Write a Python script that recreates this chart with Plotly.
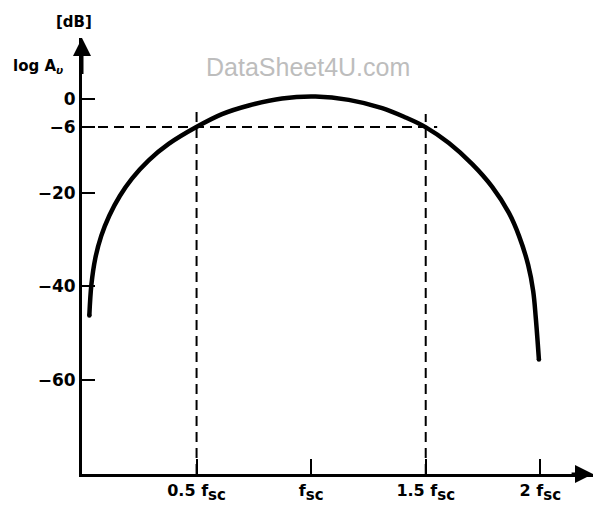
import plotly.graph_objects as go

# Frequency response of the filter: gain (dB) versus frequency (multiples of f_sc)
freq = [0.032, 0.041, 0.058, 0.084, 0.119, 0.165, 0.218, 0.291, 0.378, 0.499,
        0.611, 0.728, 0.873, 1.019, 1.164, 1.310, 1.412, 1.499, 1.601, 1.703,
        1.790, 1.863, 1.907, 1.947, 1.969, 1.980, 1.994]
gain_db = [-46.2, -39.6, -34.0, -29.2, -24.9, -20.7, -17.0, -13.1, -9.6, -6.0,
           -3.25, -1.4, 0.1, 0.5, -0.2, -1.95, -3.95, -6.0, -9.4, -13.9,
           -18.75, -24.3, -29.2, -35.4, -41.0, -46.5, -55.6]

# -6 dB reference points
ref_db = -6
ref_freqs = [0.5, 1.5]
ref_tops = [-2.7, -3.2]

y_tick_vals = [0, -6, -20, -40, -60]
y_tick_text = ["0", "\u22126", "\u221220", "\u221240", "\u221260"]
x_tick_vals = [0.5, 1.0, 1.5, 2.0]
x_tick_prefix = ["0.5 ", "", "1.5 ", "2 "]
sub_style = "<sub><span style='font-size:15px'>sc</span></sub>"
x_tick_text = [p + "f" + sub_style for p in x_tick_prefix]

X_MAX = 2.23
Y_MIN, Y_MAX = -80, 13

fig = go.Figure()

dash_style = dict(color="black", width=2, dash="10px,6px")

# horizontal -6 dB guide
fig.add_trace(go.Scatter(x=[0, ref_freqs[1] + 0.05], y=[ref_db, ref_db], mode="lines",
                         line=dash_style, hoverinfo="skip"))
# vertical guides at 0.5 f_sc and 1.5 f_sc
for f, top in zip(ref_freqs, ref_tops):
    fig.add_trace(go.Scatter(x=[f, f], y=[Y_MIN, top], mode="lines",
                             line=dash_style, hoverinfo="skip"))

# response curve
fig.add_trace(go.Scatter(x=freq, y=gain_db, mode="lines",
                         line=dict(color="black", width=4.5, shape="spline", smoothing=1.0),
                         hoverinfo="skip"))
# rounded ends of the curve
fig.add_trace(go.Scatter(x=[freq[0], freq[-1]], y=[gain_db[0], gain_db[-1]], mode="markers",
                         marker=dict(color="black", size=4.5, line=dict(width=0)),
                         hoverinfo="skip"))

tick_font = dict(family="DejaVu Sans", size=17, color="black", weight="bold")
xtick_font = dict(family="DejaVu Sans", size=16, color="black", weight="bold")

fig.update_layout(
    width=597, height=509,
    margin=dict(l=82, r=4, t=38, b=35),
    paper_bgcolor="white", plot_bgcolor="white",
    showlegend=False,
    xaxis=dict(range=[0, X_MAX], showgrid=False, zeroline=False,
               showline=True, linecolor="black", linewidth=3,
               tickmode="array", tickvals=x_tick_vals, ticktext=x_tick_text,
               ticks="inside", ticklen=15, tickwidth=2, tickcolor="black",
               tickfont=xtick_font),
    yaxis=dict(range=[Y_MIN, Y_MAX], showgrid=False, zeroline=False,
               showline=True, linecolor="black", linewidth=3,
               tickmode="array", tickvals=y_tick_vals, ticktext=y_tick_text,
               ticks="inside", ticklen=13, tickwidth=2, tickcolor="black",
               tickfont=tick_font),
)

# axis arrowheads
fig.add_annotation(x=0, y=Y_MAX, ax=0, ay=Y_MAX - 8, xref="x", yref="y",
                   axref="x", ayref="y", text="", showarrow=True,
                   arrowhead=2, arrowsize=1.2, arrowwidth=3, arrowcolor="black")
fig.add_annotation(x=X_MAX, y=Y_MIN, ax=X_MAX - 0.1, ay=Y_MIN, xref="x", yref="y",
                   axref="x", ayref="y", text="", showarrow=True,
                   arrowhead=2, arrowsize=1.2, arrowwidth=3, arrowcolor="black")

# axis titles
fig.add_annotation(x=-0.016, y=1.037, xref="paper", yref="paper", text="[dB]",
                   xanchor="center", yanchor="middle", showarrow=False,
                   font=dict(family="DejaVu Sans", size=15, color="black", weight="bold"))
fig.add_annotation(x=-0.139, y=0.935, xref="paper", yref="paper",
                   text="log A<sub><i>\u03c5</i></sub>",
                   xanchor="left", yanchor="middle", showarrow=False,
                   font=dict(family="DejaVu Sans", size=15, color="black", weight="bold"))

# watermark
fig.add_annotation(x=0.442, y=0.933, xref="paper", yref="paper", text="DataSheet4U.com",
                   xanchor="center", yanchor="middle", showarrow=False,
                   font=dict(family="Liberation Sans", size=25, color="#bdbdbd"))

fig.write_html("out.html")
